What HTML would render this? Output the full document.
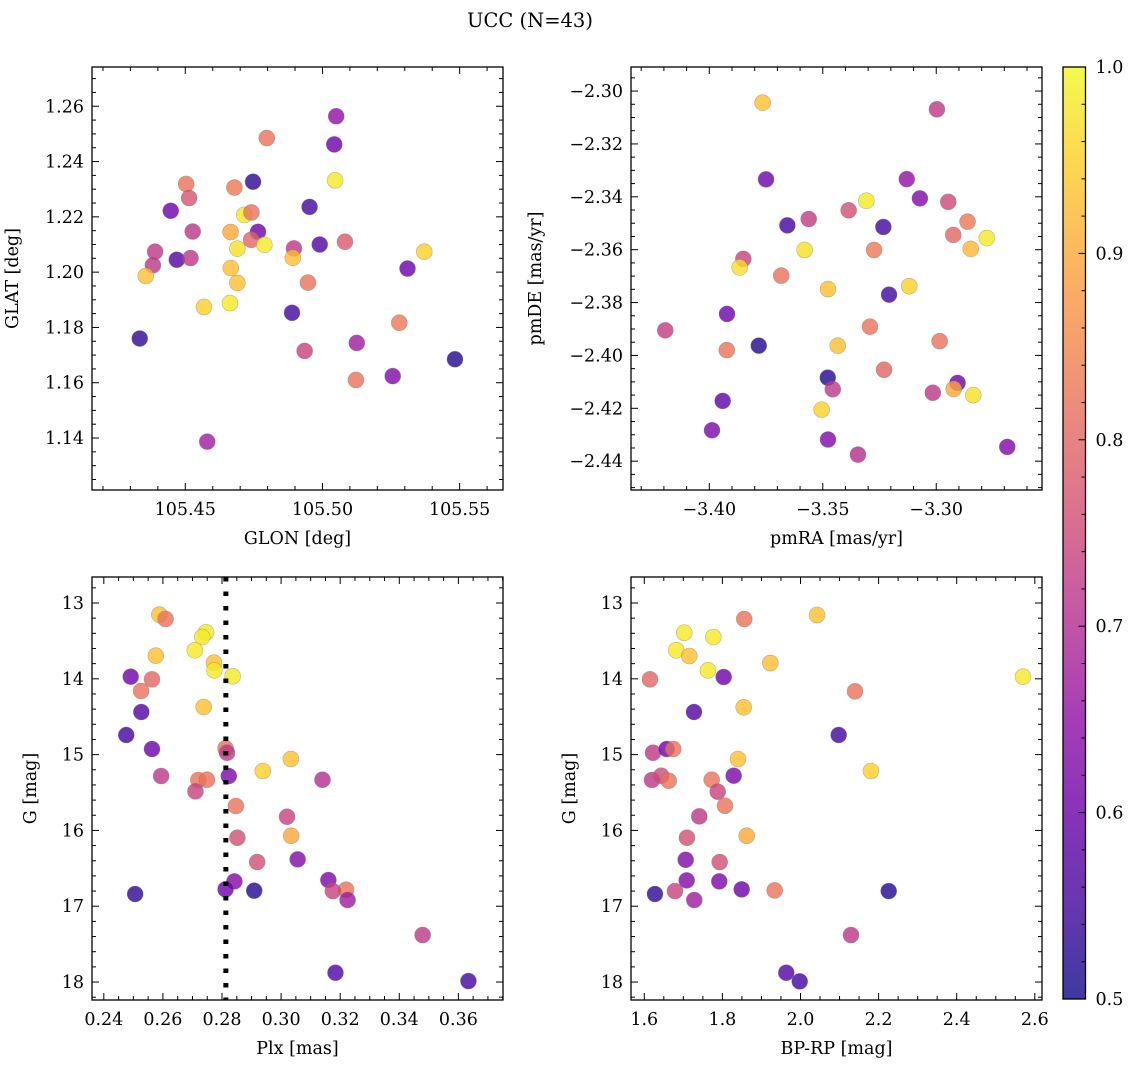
<!DOCTYPE html>
<html><head><meta charset="utf-8">
<style>
html,body{margin:0;padding:0;background:#fff;}
svg{display:block;font-family:"DejaVu Serif","Liberation Serif",serif;}
</style></head>
<body>
<svg id="fig" width="1135" height="1067" viewBox="0 0 1135 1067">
<text x="530" y="27" text-anchor="middle" font-size="19.5">UCC (N=43)</text>
</svg>
<script>
// ---- data ----
const glon=[105.505,105.4797,105.5043,105.4503,105.4747,105.4679,105.5046,105.4514,105.4447,105.4953,105.4715,105.4741,105.4527,105.4665,105.4765,105.474,105.4788,105.499,105.5082,105.469,105.4896,105.439,105.5371,105.4469,105.4519,105.4892,105.4382,105.531,105.4666,105.4356,105.469,105.4947,105.4568,105.4663,105.4889,105.4334,105.528,105.5125,105.4935,105.5483,105.5256,105.5122,105.458];
const glat=[1.2564,1.2485,1.2462,1.2319,1.2327,1.2306,1.2332,1.2268,1.2222,1.2236,1.2207,1.2216,1.2147,1.2145,1.2146,1.2117,1.2099,1.21,1.211,1.2085,1.2086,1.2074,1.2074,1.2045,1.2051,1.2052,1.2025,1.2013,1.2015,1.1986,1.1961,1.1962,1.1874,1.1888,1.1853,1.176,1.1817,1.1744,1.1715,1.1685,1.1624,1.161,1.1387];
const cTL=[0.65,0.82,0.6,0.82,0.53,0.83,0.98,0.77,0.6,0.55,0.98,0.82,0.72,0.9,0.6,0.8,0.98,0.57,0.78,0.97,0.72,0.72,0.95,0.57,0.72,0.93,0.72,0.6,0.93,0.93,0.93,0.82,0.95,0.98,0.55,0.53,0.83,0.67,0.74,0.52,0.63,0.82,0.67];
const pmra=[-3.3765,-3.2997,-3.375,-3.313,-3.3072,-3.3308,-3.2947,-3.3386,-3.3562,-3.3656,-3.3233,-3.2862,-3.2925,-3.2777,-3.358,-3.3274,-3.2848,-3.385,-3.3866,-3.3683,-3.3477,-3.3119,-3.3208,-3.3922,-3.4194,-3.3923,-3.3782,-3.3434,-3.3292,-3.2985,-3.323,-3.3478,-3.3456,-3.2906,-3.2923,-3.3015,-3.2837,-3.3941,-3.3505,-3.3988,-3.3477,-3.3345,-3.2687];
const pmde=[-2.3044,-2.3069,-2.3334,-2.3333,-2.3406,-2.3415,-2.3419,-2.3451,-2.3484,-2.3508,-2.3514,-2.3494,-2.3544,-2.3556,-2.3601,-2.3601,-2.3597,-2.3635,-2.3667,-2.3698,-2.3749,-2.3738,-2.377,-2.3843,-2.3905,-2.398,-2.3963,-2.3963,-2.3891,-2.3946,-2.4054,-2.4084,-2.4128,-2.4104,-2.4127,-2.4141,-2.415,-2.4172,-2.4205,-2.4283,-2.4318,-2.4375,-2.4346];
const cTR=[0.93,0.72,0.6,0.65,0.63,0.98,0.75,0.76,0.73,0.55,0.55,0.83,0.8,0.98,0.97,0.83,0.92,0.74,0.97,0.82,0.93,0.95,0.55,0.6,0.73,0.82,0.52,0.93,0.82,0.82,0.8,0.52,0.72,0.6,0.9,0.72,0.97,0.58,0.95,0.62,0.63,0.7,0.63];
const plx=[0.2588,0.2609,0.2746,0.2733,0.2708,0.2576,0.2773,0.2774,0.2836,0.2491,0.2563,0.2526,0.2527,0.2738,0.2476,0.2563,0.2812,0.2817,0.3033,0.2938,0.2594,0.272,0.2749,0.2823,0.314,0.271,0.2847,0.302,0.2852,0.3034,0.3056,0.2919,0.2842,0.316,0.2812,0.322,0.2909,0.2506,0.3175,0.3225,0.3479,0.3184,0.3634];
const gBL=[13.154,13.211,13.387,13.449,13.624,13.695,13.787,13.888,13.967,13.972,14.007,14.161,14.438,14.372,14.741,14.926,14.917,14.975,15.058,15.216,15.282,15.335,15.331,15.282,15.331,15.485,15.678,15.819,16.096,16.07,16.382,16.417,16.672,16.654,16.777,16.782,16.795,16.839,16.8,16.918,17.38,17.877,17.987];
const cBL=[0.93,0.82,0.98,0.98,0.98,0.93,0.93,0.98,0.98,0.6,0.8,0.82,0.57,0.93,0.55,0.6,0.82,0.72,0.93,0.95,0.72,0.82,0.82,0.62,0.7,0.74,0.82,0.74,0.76,0.9,0.63,0.76,0.63,0.62,0.6,0.82,0.52,0.53,0.74,0.67,0.72,0.57,0.55];
const bprp=[2.0423,1.856,1.7024,1.7767,1.6819,1.7152,1.9227,1.7631,1.6146,1.8033,2.5698,2.1396,1.7273,1.8546,2.0978,1.6223,1.6573,1.6743,1.84,2.1805,1.6197,1.6435,1.6625,1.7726,1.8289,1.788,1.8067,1.7408,1.7093,1.8622,1.706,1.7931,1.7086,1.7921,1.8494,1.9339,2.2259,1.6274,1.6786,1.728,2.1293,1.9636,1.998];
const gBR=[13.158,13.211,13.392,13.449,13.624,13.699,13.792,13.888,14.007,13.976,13.972,14.165,14.438,14.376,14.741,14.975,14.926,14.926,15.058,15.216,15.335,15.278,15.344,15.331,15.278,15.489,15.674,15.814,16.096,16.07,16.387,16.417,16.659,16.672,16.777,16.791,16.8,16.839,16.8,16.918,17.38,17.877,17.991];
const cBR=[0.93,0.82,0.98,0.98,0.98,0.93,0.93,0.98,0.8,0.6,0.98,0.82,0.57,0.93,0.55,0.72,0.6,0.82,0.93,0.95,0.72,0.75,0.82,0.82,0.62,0.74,0.82,0.72,0.76,0.9,0.63,0.76,0.63,0.62,0.6,0.82,0.52,0.53,0.74,0.67,0.72,0.57,0.55];
const plxLine=0.2813;
const cbTicks=[0.5,0.6,0.7,0.8,0.9,1.0];

const NS='http://www.w3.org/2000/svg';
const svg=document.getElementById('fig');
const FS=17.5;
function mk(tag,attrs,parent){const e=document.createElementNS(NS,tag);for(const k in attrs)e.setAttribute(k,attrs[k]);(parent||svg).appendChild(e);return e;}
const stops=['#0d0887','#41049d','#6a00a8','#8f0da4','#b12a90','#cc4778','#e16462','#f2844b','#fca636','#fcce25','#f0f921'];
function hex(h){return [parseInt(h.substr(1,2),16),parseInt(h.substr(3,2),16),parseInt(h.substr(5,2),16)];}
function plasma(v){let t=(v-0.5)/0.5;t=Math.max(0,Math.min(1,t));const p=t*10,i=Math.min(9,Math.floor(p)),f=p-i;const a=hex(stops[i]),b=hex(stops[i+1]);return 'rgb('+a.map((x,j)=>Math.round(x+(b[j]-x)*f)).join(',')+')';}

function panel(o){
  const g=mk('g',{});
  
  
  const X=v=>o.L+(v-o.x0)/(o.x1-o.x0)*(o.R-o.L);
  const Y=o.inv? v=>o.T+(v-o.y0)/(o.y1-o.y0)*(o.B-o.T) : v=>o.B-(v-o.y0)/(o.y1-o.y0)*(o.B-o.T);
  const eps=1e-9;
  const tg=mk('g',{stroke:'#000','stroke-width':1},g);
  
  
  const lo=Math.min(o.x0,o.x1),hi=Math.max(o.x0,o.x1);
  for(let k=Math.ceil(lo/o.xmin-eps);k*o.xmin<=hi+eps;k++){const v=k*o.xmin,px=X(v);const isM=Math.abs(v/o.xmaj-Math.round(v/o.xmaj))<1e-6;const l=isM?7:4;
    mk('line',{x1:px,x2:px,y1:o.B,y2:o.B-l},tg);mk('line',{x1:px,x2:px,y1:o.T,y2:o.T+l},tg);}
  const ylo=Math.min(o.y0,o.y1),yhi=Math.max(o.y0,o.y1);
  for(let k=Math.ceil(ylo/o.ymin-eps);k*o.ymin<=yhi+eps;k++){const v=k*o.ymin,py=Y(v);const isM=Math.abs(v/o.ymaj-Math.round(v/o.ymaj))<1e-6;const l=isM?7:4;
    mk('line',{x1:o.L,x2:o.L+l,y1:py,y2:py},tg);mk('line',{x1:o.R,x2:o.R-l,y1:py,y2:py},tg);}
  for(let k=Math.ceil(lo/o.xmaj-eps);k*o.xmaj<=hi+eps;k++){const v=k*o.xmaj;const t=mk('text',{x:X(v),y:o.B+25,'text-anchor':'middle','font-size':FS},g);t.textContent=v.toFixed(o.xd).replace('-','\u2212');
    
    }
  for(let k=Math.ceil(ylo/o.ymaj-eps);k*o.ymaj<=yhi+eps;k++){const v=k*o.ymaj;const t=mk('text',{x:o.L-8,y:Y(v)+6,'text-anchor':'end','font-size':FS},g);t.textContent=v.toFixed(o.yd).replace('-','\u2212');
    
    }
  const xl=mk('text',{x:(o.L+o.R)/2,y:o.B+54,'text-anchor':'middle','font-size':FS},g);xl.textContent=o.xlab;
  
  
  const yx=o.L-o.ylabOff,yy=(o.T+o.B)/2;
  const yl=mk('text',{x:yx,y:yy,'text-anchor':'middle','font-size':FS,transform:'rotate(-90 '+yx+' '+yy+')'},g);yl.textContent=o.ylab;
  
  
  const pg=mk('g',{},g);
  
  
  for(let i=0;i<o.xs.length;i++){const c=mk('circle',{cx:X(o.xs[i]),cy:Y(o.ys[i]),r:8,fill:plasma(o.cs[i]),'fill-opacity':0.8,stroke:'#777','stroke-opacity':0.5,'stroke-width':0.6},pg);
    
    }
  if(o.vline!==undefined){const l=mk('line',{x1:X(o.vline),x2:X(o.vline),y1:o.T,y2:o.B,stroke:'#000','stroke-width':5,'stroke-dasharray':'4.5 10'},g);
    
    }
  const fr=mk('rect',{x:o.L,y:o.T,width:o.R-o.L,height:o.B-o.T,fill:'none',stroke:'#000','stroke-width':1.3},g);
  
  
}
panel({name:'glon-glat-panel',L:92,R:503,T:67,B:490,x0:105.416,x1:105.5658,y0:1.1212,y1:1.2742,xmaj:0.05,xmin:0.01,ymaj:0.02,ymin:0.005,xd:2,yd:2,xs:glon,ys:glat,cs:cTL,xlab:'GLON [deg]',ylab:'GLAT [deg]',ylabOff:74});
panel({name:'pm-panel',L:631,R:1042,T:67,B:490,x0:-3.4345,x1:-3.2534,y0:-2.4509,y1:-2.2909,xmaj:0.05,xmin:0.01,ymaj:0.02,ymin:0.005,xd:2,yd:2,xs:pmra,ys:pmde,cs:cTR,xlab:'pmRA [mas/yr]',ylab:'pmDE [mas/yr]',ylabOff:90});
panel({name:'plx-g-panel',L:92,R:503,T:577,B:1000,x0:0.236,x1:0.3751,y0:12.657,y1:18.237,inv:true,xmaj:0.02,xmin:0.005,ymaj:1,ymin:0.2,xd:2,yd:0,xs:plx,ys:gBL,cs:cBL,xlab:'Plx [mas]',ylab:'G [mag]',ylabOff:56,vline:plxLine});
panel({name:'color-g-panel',L:631,R:1042,T:577,B:1000,x0:1.566,x1:2.6184,y0:12.657,y1:18.237,inv:true,xmaj:0.2,xmin:0.05,ymaj:1,ymin:0.2,xd:1,yd:0,xs:bprp,ys:gBR,cs:cBR,xlab:'BP-RP [mag]',ylab:'G [mag]',ylabOff:56});

const cb=mk('g',{});


const defs=mk('defs',{},cb);
const lg=mk('linearGradient',{id:'cbg',x1:0,y1:1,x2:0,y2:0},defs);
stops.forEach((s,i)=>mk('stop',{offset:i/10,'stop-color':s,'stop-opacity':0.8},lg));
const cL=1063,cR=1085.5,cT=67,cB=999;
mk('rect',{x:cL,y:cT,width:cR-cL,height:cB-cT,fill:'url(#cbg)',stroke:'#000','stroke-width':1.3},cb);
const cy=v=>cB-(v-0.5)/0.5*(cB-cT);
for(let k=25;k<=50;k++){const v=k/50;const isM=k%5===0;mk('line',{x1:cR,x2:cR-(isM?7:4),y1:cy(v),y2:cy(v),stroke:'#000','stroke-width':1},cb);}
cbTicks.forEach(v=>{const t=mk('text',{x:cR+10,y:cy(v)+6,'font-size':FS},cb);t.textContent=v.toFixed(1);
  
  });
</script>
</body></html>
